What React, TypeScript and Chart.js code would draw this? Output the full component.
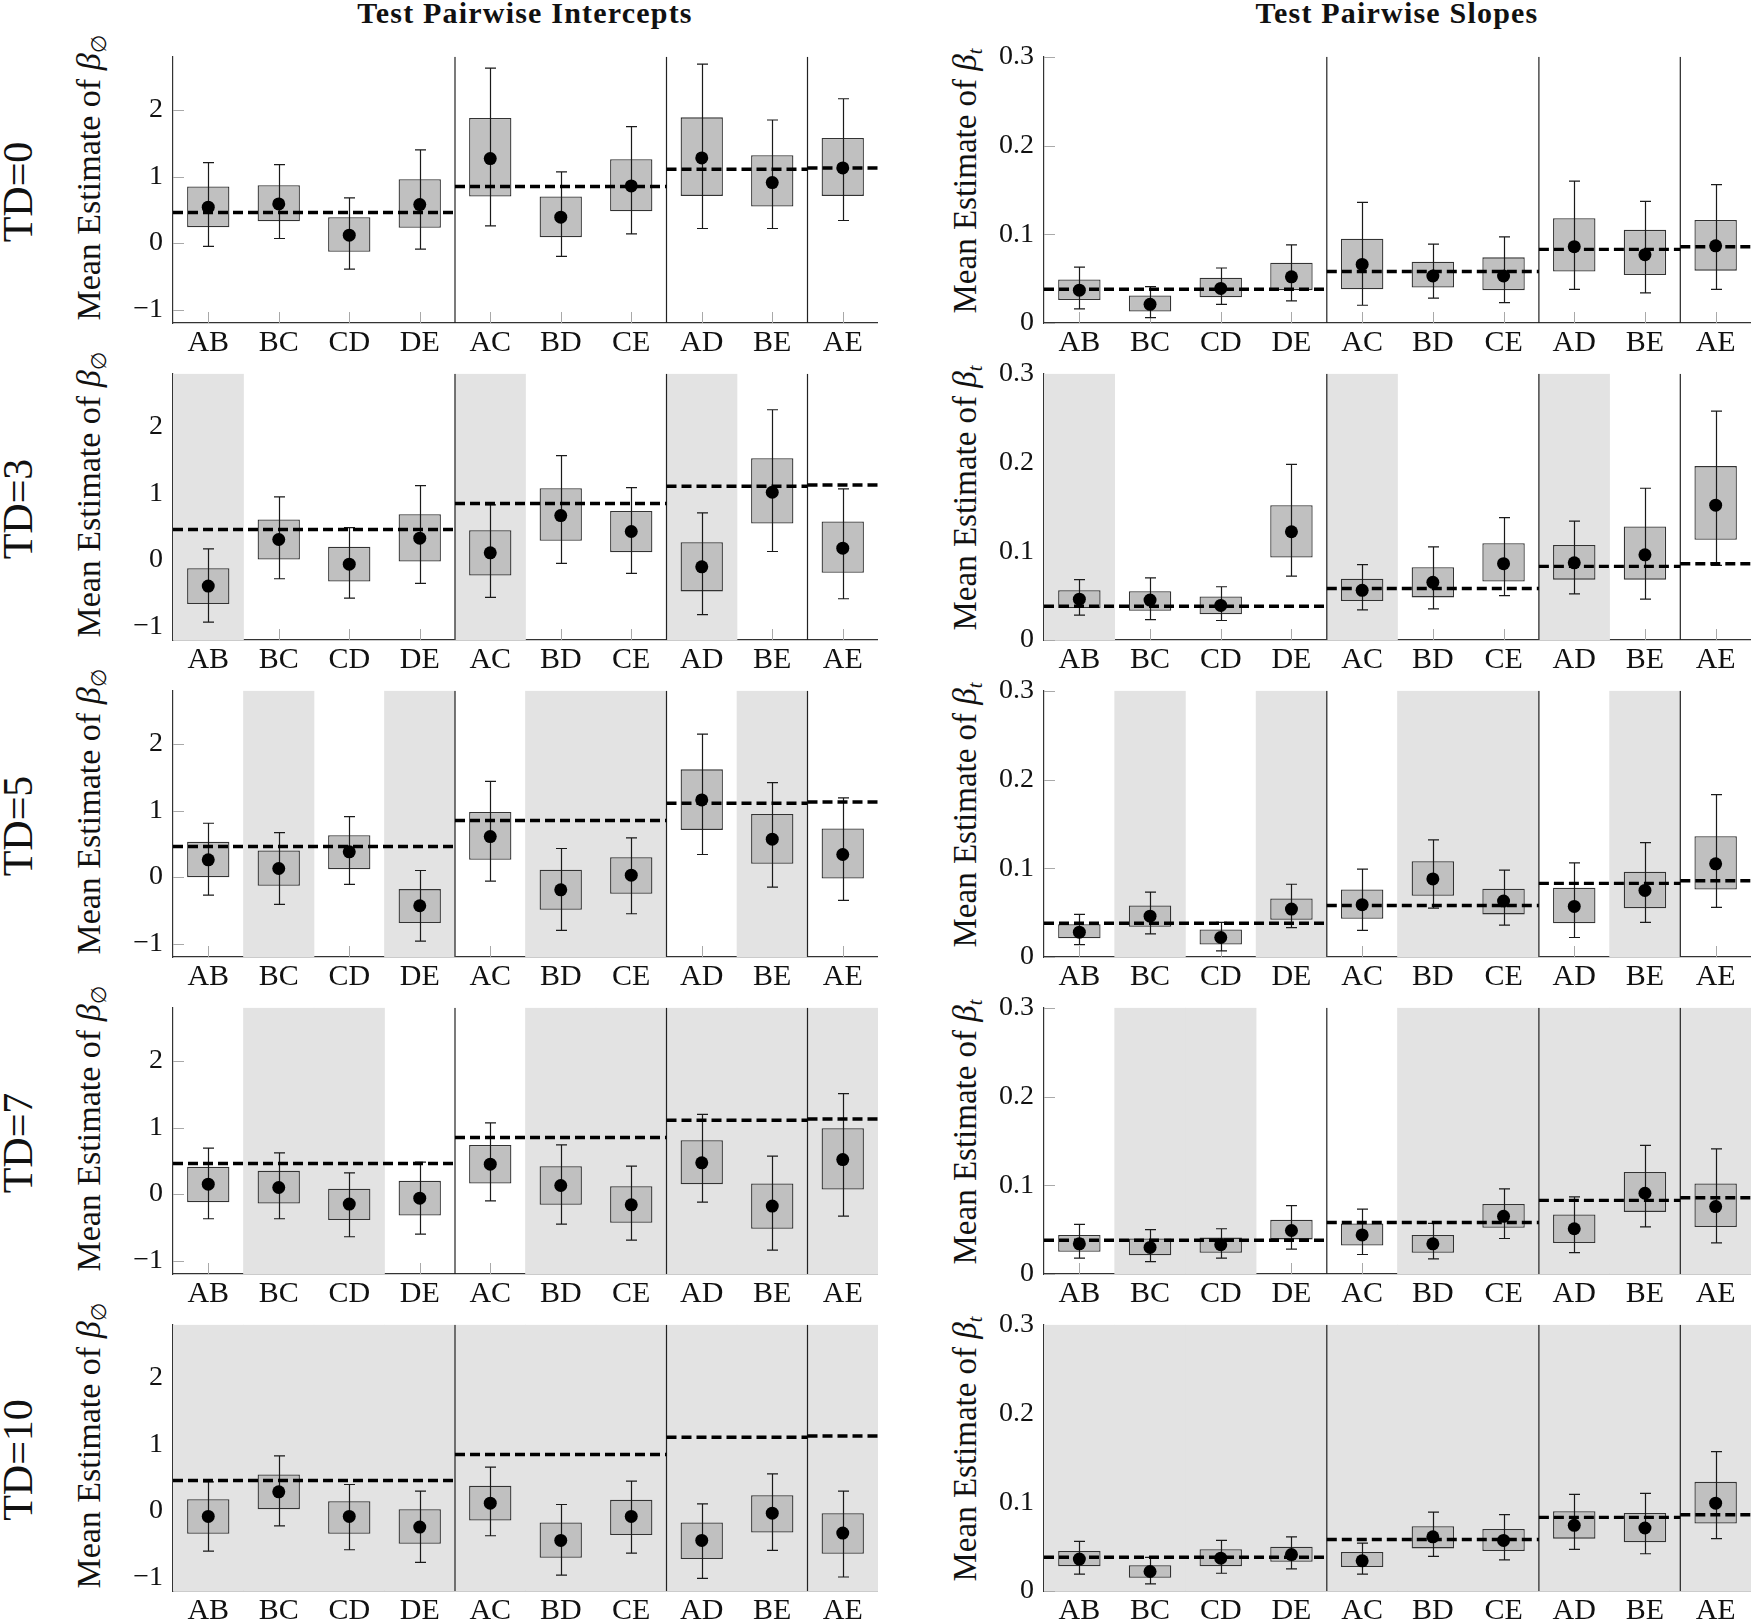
import React, { useEffect, useRef } from 'react';
import { Chart, registerables } from 'chart.js';

Chart.register(...registerables);

// ---------------- data ----------------
const CATEGORIES = ['AB', 'BC', 'CD', 'DE', 'AC', 'BD', 'CE', 'AD', 'BE', 'AE'];
const TD_LABELS = ['TD=0', 'TD=3', 'TD=5', 'TD=7', 'TD=10'];
const COLUMN_TITLES = ['Test Pairwise Intercepts', 'Test Pairwise Slopes'];
// group edges / separators, in category-index units
const GROUP_EDGES = [-0.5, 3.5, 6.5, 8.5, 9.5];
const SEPARATORS = [3.5, 6.5, 8.5];
const TRUE_INTERCEPT = [0.46, 0.85, 1.11, 1.13];
const TRUE_SLOPE = [0.038, 0.058, 0.083, 0.086];
const INTERCEPT_TICKS = [-1, 0, 1, 2];
const SLOPE_TICKS = [0, 0.1, 0.2, 0.3];
const INTERCEPT_RANGE = [-1.2, 2.8];
const SLOPE_RANGE = [0, 0.3];
// shaded categories (index) per TD row
const SHADED = [
  [],
  [0, 4, 7],
  [1, 3, 5, 6, 8],
  [1, 2, 5, 6, 7, 8, 9],
  [0, 1, 2, 3, 4, 5, 6, 7, 8, 9],
];

// intercepts: rows = TD 0,3,5,7,10
const INT_MEAN = [
  [0.54, 0.59, 0.12, 0.58, 1.27, 0.39, 0.86, 1.28, 0.91, 1.13],
  [-0.39, 0.31, -0.06, 0.33, 0.11, 0.67, 0.43, -0.10, 1.02, 0.18],
  [0.26, 0.13, 0.38, -0.43, 0.61, -0.19, 0.03, 1.16, 0.57, 0.34],
  [0.15, 0.10, -0.15, -0.06, 0.45, 0.13, -0.16, 0.47, -0.18, 0.52],
  [-0.08, 0.29, -0.08, -0.24, 0.12, -0.44, -0.08, -0.44, -0.03, -0.33],
];
const INT_BOX_LO = [
  [0.24, 0.33, -0.13, 0.23, 0.70, 0.09, 0.48, 0.71, 0.55, 0.71],
  [-0.66, 0.01, -0.32, -0.02, -0.23, 0.29, 0.12, -0.47, 0.55, -0.19],
  [0.00, -0.13, 0.12, -0.69, 0.26, -0.49, -0.25, 0.71, 0.20, -0.02],
  [-0.12, -0.14, -0.39, -0.32, 0.16, -0.16, -0.43, 0.15, -0.52, 0.07],
  [-0.34, 0.03, -0.34, -0.49, -0.14, -0.70, -0.36, -0.72, -0.32, -0.64],
];
const INT_BOX_HI = [
  [0.85, 0.87, 0.39, 0.96, 1.88, 0.70, 1.26, 1.89, 1.32, 1.58],
  [-0.12, 0.61, 0.20, 0.69, 0.45, 1.08, 0.74, 0.27, 1.53, 0.58],
  [0.53, 0.40, 0.63, -0.18, 0.98, 0.11, 0.30, 1.62, 0.95, 0.73],
  [0.41, 0.35, 0.08, 0.20, 0.74, 0.42, 0.12, 0.81, 0.16, 0.99],
  [0.18, 0.55, 0.15, 0.03, 0.38, -0.17, 0.17, -0.17, 0.24, -0.03],
];
const INT_WHISK_LO = [
  [-0.05, 0.07, -0.39, -0.09, 0.26, -0.20, 0.14, 0.22, 0.22, 0.34],
  [-0.93, -0.28, -0.57, -0.35, -0.56, -0.05, -0.20, -0.82, 0.13, -0.58],
  [-0.27, -0.41, -0.11, -0.96, -0.06, -0.80, -0.55, 0.34, -0.15, -0.35],
  [-0.37, -0.37, -0.64, -0.60, -0.10, -0.45, -0.69, -0.12, -0.84, -0.33],
  [-0.60, -0.22, -0.58, -0.77, -0.37, -0.96, -0.63, -1.01, -0.59, -0.99],
];
const INT_WHISK_HI = [
  [1.21, 1.18, 0.68, 1.40, 2.63, 1.07, 1.75, 2.69, 1.85, 2.17],
  [0.17, 0.95, 0.49, 1.12, 0.83, 1.57, 1.09, 0.71, 2.26, 1.07],
  [0.81, 0.67, 0.91, 0.10, 1.44, 0.43, 0.59, 2.15, 1.42, 1.19],
  [0.69, 0.62, 0.32, 0.48, 1.07, 0.74, 0.42, 1.20, 0.57, 1.51],
  [0.44, 0.83, 0.40, 0.30, 0.66, 0.10, 0.45, 0.11, 0.56, 0.30],
];

// slopes
const SLOPE_MEAN = [
  [0.037, 0.021, 0.039, 0.052, 0.066, 0.053, 0.053, 0.086, 0.077, 0.087],
  [0.046, 0.045, 0.039, 0.122, 0.056, 0.065, 0.086, 0.087, 0.096, 0.152],
  [0.028, 0.046, 0.022, 0.054, 0.059, 0.088, 0.063, 0.057, 0.075, 0.105],
  [0.034, 0.030, 0.033, 0.049, 0.044, 0.034, 0.065, 0.051, 0.091, 0.076],
  [0.036, 0.022, 0.037, 0.041, 0.034, 0.061, 0.057, 0.074, 0.071, 0.099],
];
const SLOPE_BOX_LO = [
  [0.026, 0.013, 0.029, 0.037, 0.038, 0.040, 0.037, 0.058, 0.054, 0.059],
  [0.036, 0.033, 0.029, 0.093, 0.044, 0.048, 0.066, 0.068, 0.068, 0.113],
  [0.021, 0.034, 0.014, 0.042, 0.043, 0.069, 0.048, 0.038, 0.055, 0.076],
  [0.025, 0.021, 0.024, 0.039, 0.032, 0.024, 0.052, 0.035, 0.070, 0.053],
  [0.028, 0.015, 0.028, 0.033, 0.027, 0.048, 0.045, 0.059, 0.055, 0.076],
];
const SLOPE_BOX_HI = [
  [0.049, 0.031, 0.051, 0.068, 0.095, 0.069, 0.074, 0.118, 0.105, 0.116],
  [0.056, 0.055, 0.049, 0.152, 0.069, 0.082, 0.109, 0.107, 0.128, 0.196],
  [0.037, 0.058, 0.031, 0.066, 0.076, 0.108, 0.077, 0.078, 0.096, 0.136],
  [0.044, 0.040, 0.041, 0.061, 0.057, 0.044, 0.079, 0.067, 0.115, 0.102],
  [0.045, 0.029, 0.047, 0.050, 0.044, 0.073, 0.070, 0.090, 0.088, 0.123],
];
const SLOPE_WHISK_LO = [
  [0.016, 0.006, 0.021, 0.025, 0.020, 0.028, 0.023, 0.038, 0.034, 0.038],
  [0.028, 0.023, 0.022, 0.072, 0.034, 0.035, 0.050, 0.052, 0.046, 0.084],
  [0.014, 0.026, 0.007, 0.033, 0.030, 0.055, 0.036, 0.022, 0.039, 0.056],
  [0.018, 0.014, 0.018, 0.028, 0.022, 0.017, 0.040, 0.024, 0.053, 0.035],
  [0.019, 0.008, 0.020, 0.025, 0.019, 0.039, 0.035, 0.047, 0.042, 0.059],
];
const SLOPE_WHISK_HI = [
  [0.063, 0.041, 0.062, 0.088, 0.136, 0.089, 0.097, 0.160, 0.137, 0.156],
  [0.068, 0.070, 0.060, 0.198, 0.085, 0.105, 0.138, 0.134, 0.171, 0.258],
  [0.048, 0.073, 0.039, 0.082, 0.099, 0.132, 0.098, 0.106, 0.129, 0.183],
  [0.056, 0.050, 0.051, 0.077, 0.073, 0.057, 0.096, 0.087, 0.145, 0.141],
  [0.056, 0.038, 0.057, 0.061, 0.054, 0.089, 0.086, 0.109, 0.110, 0.157],
];

// ---------------- layout / style ----------------
const FONT = "'Liberation Serif', 'Times New Roman', serif";
const PLOT_TOPS = [52, 369, 686, 1003, 1320];
const PLOT_H = 271;
const PAD_TOP = 22;
const XAXIS_H = 40;
const COLS = [
  { canvasLeft: 60, width: 818, axisW: 113, titleX: 525, yTitleX: 91 },
  { canvasLeft: 930, width: 821, axisW: 114, titleX: 1397, yTitleX: 967 },
];

function fmtInt(v: number) {
  return v < 0 ? '\u2212' + Math.abs(v) : String(v);
}
function fmtSlope(v: number) {
  return Math.abs(v) < 1e-9 ? '0' : v.toFixed(1);
}

function Panel({ row, col }: { row: number; col: number }) {
  const ref = useRef<HTMLCanvasElement | null>(null);
  const geo = COLS[col];
  const height = PAD_TOP + PLOT_H + XAXIS_H;
  const top = PLOT_TOPS[row] - PAD_TOP;

  useEffect(() => {
    const isInt = col === 0;
    const [yMin, yMax] = isInt ? INTERCEPT_RANGE : SLOPE_RANGE;
    const mean = isInt ? INT_MEAN[row] : SLOPE_MEAN[row];
    const boxLo = isInt ? INT_BOX_LO[row] : SLOPE_BOX_LO[row];
    const boxHi = isInt ? INT_BOX_HI[row] : SLOPE_BOX_HI[row];
    const wLo = isInt ? INT_WHISK_LO[row] : SLOPE_WHISK_LO[row];
    const wHi = isInt ? INT_WHISK_HI[row] : SLOPE_WHISK_HI[row];
    const truth = isInt ? TRUE_INTERCEPT : TRUE_SLOPE;
    const ticks = isInt ? INTERCEPT_TICKS : SLOPE_TICKS;
    const shaded = SHADED[row];

    const datasets: any[] = [
      {
        type: 'bar',
        label: 'shade',
        data: CATEGORIES.map((_, i) => (shaded.includes(i) ? [yMin, yMax] : null)),
        backgroundColor: '#e3e3e3',
        borderWidth: 0,
        barPercentage: 1,
        categoryPercentage: 1,
        grouped: false,
        order: 10,
        xAxisID: 'x',
      },
      {
        type: 'bar',
        label: 'box',
        data: boxLo.map((v, i) => [v, boxHi[i]]),
        backgroundColor: '#c0c0c0',
        borderColor: '#333333',
        borderWidth: 1.3,
        borderSkipped: false,
        barPercentage: 0.6,
        categoryPercentage: 1,
        grouped: false,
        order: 8,
        xAxisID: 'x',
      },
    ];
    SEPARATORS.forEach((s) => {
      datasets.push({
        type: 'line',
        label: 'sep',
        xAxisID: 'x2',
        data: [
          { x: s, y: yMin },
          { x: s, y: yMax },
        ],
        borderColor: '#222222',
        borderWidth: 1.2,
        pointRadius: 0,
        order: 7,
      });
    });
    truth.forEach((v, g) => {
      datasets.push({
        type: 'line',
        label: 'truth',
        xAxisID: 'x2',
        data: [
          { x: GROUP_EDGES[g], y: v },
          { x: GROUP_EDGES[g + 1], y: v },
        ],
        borderColor: '#000000',
        borderWidth: 3.4,
        borderDash: [10, 5],
        pointRadius: 0,
        order: 5,
      });
    });
    datasets.push({
      type: 'line',
      label: 'mean',
      xAxisID: 'x',
      data: mean,
      showLine: false,
      pointRadius: 6.5,
      pointBackgroundColor: '#000000',
      pointBorderColor: '#000000',
      pointBorderWidth: 0,
      order: 1,
    });

    const deco = {
      id: 'deco',
      beforeDatasetsDraw(chart: any) {
        const { ctx, chartArea, scales } = chart;
        ctx.save();
        ctx.strokeStyle = '#a9a9a9';
        ctx.lineWidth = 1;
        ctx.beginPath();
        scales.y.ticks.forEach((t: any) => {
          const py = Math.round(scales.y.getPixelForValue(t.value)) + 0.5;
          ctx.moveTo(chartArea.left, py);
          ctx.lineTo(chartArea.left + 11, py);
        });
        CATEGORIES.forEach((_, i) => {
          const px = Math.round(scales.x.getPixelForValue(i)) + 0.5;
          ctx.moveTo(px, chartArea.bottom);
          ctx.lineTo(px, chartArea.bottom - 11);
        });
        ctx.stroke();
        ctx.restore();
      },
      afterDatasetDraw(chart: any, args: any) {
        if (args.index !== 1) return;
        const { ctx, scales } = chart;
        ctx.save();
        ctx.strokeStyle = '#1a1a1a';
        ctx.lineWidth = 1.2;
        ctx.beginPath();
        CATEGORIES.forEach((_, i) => {
          const px = Math.round(scales.x.getPixelForValue(i)) + 0.5;
          const y1 = scales.y.getPixelForValue(wHi[i]);
          const y0 = scales.y.getPixelForValue(wLo[i]);
          ctx.moveTo(px, y1);
          ctx.lineTo(px, y0);
          ctx.moveTo(px - 5.5, y1);
          ctx.lineTo(px + 5.5, y1);
          ctx.moveTo(px - 5.5, y0);
          ctx.lineTo(px + 5.5, y0);
        });
        ctx.stroke();
        ctx.restore();
      },
    };

    const chart = new Chart(ref.current as HTMLCanvasElement, {
      type: 'bar',
      data: { labels: CATEGORIES, datasets },
      options: {
        responsive: false,
        animation: false,
        events: [],
        layout: { autoPadding: false, padding: { top: PAD_TOP, left: 0, right: 0, bottom: 0 } },
        plugins: { legend: { display: false }, tooltip: { enabled: false } },
        scales: {
          x: {
            type: 'category',
            position: 'bottom',
            offset: true,
            grid: { display: false, drawTicks: false },
            border: { display: true, color: '#333333', width: 1.2 },
            ticks: {
              font: { family: FONT, size: 30 },
              color: '#111111',
              padding: 2,
              maxRotation: 0,
              autoSkip: false,
            },
            afterFit: (s: any) => {
              s.height = XAXIS_H;
            },
          },
          x2: {
            type: 'linear',
            axis: 'x',
            position: 'bottom',
            display: true,
            offset: false,
            bounds: 'data',
            min: -0.5,
            max: 9.5,
            grid: { display: false, drawTicks: false, offset: false },
            border: { display: false },
            ticks: { display: false },
            afterFit: (s: any) => {
              s.height = 0;
            },
          },
          y: {
            type: 'linear',
            position: 'left',
            min: yMin,
            max: yMax,
            z: 1,
            grid: { display: false, drawTicks: false },
            border: { display: true, color: '#333333', width: 1.2 },
            ticks: {
              font: { family: FONT, size: 28 },
              color: '#111111',
              padding: 10,
              callback: (v: any) => (isInt ? fmtInt(Number(v)) : fmtSlope(Number(v))),
            },
            afterBuildTicks: (s: any) => {
              s.ticks = ticks.map((v) => ({ value: v }));
            },
            afterFit: (s: any) => {
              s.width = geo.axisW;
            },
          },
        },
      } as any,
      plugins: [deco],
    } as any);
    return () => chart.destroy();
  }, [row, col]);

  return (
    <canvas
      ref={ref}
      width={geo.width}
      height={height}
      style={{ position: 'absolute', left: geo.canvasLeft, top, width: geo.width, height }}
    />
  );
}

function Rotated({ x, y, size, children, weight }: any) {
  return (
    <div
      style={{
        position: 'absolute',
        left: x,
        top: y,
        transform: 'translate(-50%, -50%) rotate(-90deg)',
        whiteSpace: 'nowrap',
        fontSize: size,
        lineHeight: 1,
        fontWeight: weight || 'normal',
        color: '#111',
        fontFamily: FONT,
      }}
    >
      {children}
    </div>
  );
}

export default function App() {
  return (
    <div
      style={{
        position: 'absolute',
        left: 0,
        top: 0,
        width: 1751,
        height: 1622,
        overflow: 'hidden',
        background: '#ffffff',
        fontFamily: FONT,
      }}
    >
      {COLUMN_TITLES.map((t, c) => (
        <div
          key={t}
          style={{
            position: 'absolute',
            left: COLS[c].titleX,
            top: 13,
            transform: 'translate(-50%, -50%)',
            whiteSpace: 'nowrap',
            fontSize: 30,
            fontWeight: 'bold',
            letterSpacing: 1.2,
            lineHeight: 1,
            color: '#111',
          }}
        >
          {t}
        </div>
      ))}
      {TD_LABELS.map((lab, r) => {
        const cy = PLOT_TOPS[r] + PLOT_H / 2;
        return (
          <React.Fragment key={lab}>
            <Rotated x={18} y={cy + 4} size={42}>
              {lab}
            </Rotated>
            <Rotated x={COLS[0].yTitleX} y={cy - 10} size={34}>
              Mean Estimate of <i>β</i>
              <sub style={{ fontSize: '0.62em', verticalAlign: '-0.3em' }}>∅</sub>
            </Rotated>
            <Rotated x={COLS[1].yTitleX} y={cy - 7} size={33}>
              Mean Estimate of <i>β</i>
              <sub style={{ fontSize: '0.62em', verticalAlign: '-0.3em' }}>
                <i>t</i>
              </sub>
            </Rotated>
          </React.Fragment>
        );
      })}
      {TD_LABELS.map((lab, r) =>
        [0, 1].map((c) => <Panel key={lab + c} row={r} col={c} />)
      )}
    </div>
  );
}
